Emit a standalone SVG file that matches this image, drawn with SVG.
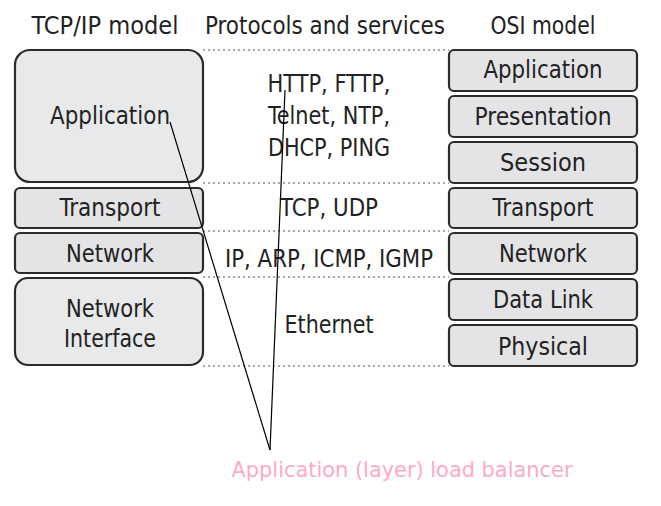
<svg xmlns="http://www.w3.org/2000/svg" width="661" height="506" viewBox="0 0 661 506">
<style>
.box{fill:#e4e4e6;stroke:#2b2b2b;stroke-width:2.2}
.big{fill:#e8e9eb}
.t{font-family:"DejaVu Sans Condensed","DejaVu Sans",sans-serif;font-size:24px;fill:#222;text-anchor:middle}
.dot{stroke:#555;stroke-width:1;stroke-dasharray:2 3;fill:none}
.ln{stroke:#000;stroke-width:1.2;fill:none}
.pink{font-family:"DejaVu Sans Condensed","DejaVu Sans",sans-serif;font-size:22px;fill:#ffaac4;text-anchor:middle}
</style>
<rect width="661" height="506" fill="#fff"/>
<g id="headers">
<text class="t" x="105" y="34" textLength="147" lengthAdjust="spacingAndGlyphs">TCP/IP model</text>
<text class="t" x="325" y="34" textLength="240" lengthAdjust="spacingAndGlyphs">Protocols and services</text>
<text class="t" x="543" y="34" textLength="105" lengthAdjust="spacingAndGlyphs">OSI model</text>
</g>
<g id="separators">
<line class="dot" x1="203" y1="50" x2="449" y2="50"/>
<line class="dot" x1="203" y1="183" x2="449" y2="183"/>
<line class="dot" x1="203" y1="231" x2="449" y2="231"/>
<line class="dot" x1="203" y1="277" x2="449" y2="277"/>
<line class="dot" x1="203" y1="366" x2="449" y2="366"/>
</g>
<g id="tcp-application"><rect class="box big" x="15" y="50" width="188" height="132" rx="15"/><text class="t" x="110" y="124" textLength="120" lengthAdjust="spacingAndGlyphs">Application</text></g>
<g id="tcp-transport"><rect class="box" x="15" y="188" width="188" height="40" rx="5"/><text class="t" x="110" y="216" textLength="101" lengthAdjust="spacingAndGlyphs">Transport</text></g>
<g id="tcp-network"><rect class="box" x="15" y="233" width="188" height="40" rx="5"/><text class="t" x="110" y="262" textLength="88" lengthAdjust="spacingAndGlyphs">Network</text></g>
<g id="tcp-netif"><rect class="box big" x="15" y="278" width="188" height="87" rx="13"/><text class="t" x="110" y="317" textLength="88" lengthAdjust="spacingAndGlyphs">Network</text><text class="t" x="110" y="347" textLength="92" lengthAdjust="spacingAndGlyphs">Interface</text></g>
<g id="proto-app"><text class="t" x="329" y="92" textLength="123" lengthAdjust="spacingAndGlyphs">HTTP, FTTP,</text><text class="t" x="329" y="124" textLength="122" lengthAdjust="spacingAndGlyphs">Telnet, NTP,</text><text class="t" x="329" y="156" textLength="122" lengthAdjust="spacingAndGlyphs">DHCP, PING</text></g>
<g id="proto-transport"><text class="t" x="329" y="216" textLength="98" lengthAdjust="spacingAndGlyphs">TCP, UDP</text></g>
<g id="proto-network"><text class="t" x="329" y="267" textLength="208" lengthAdjust="spacingAndGlyphs">IP, ARP, ICMP, IGMP</text></g>
<g id="proto-link"><text class="t" x="329" y="333" textLength="89" lengthAdjust="spacingAndGlyphs">Ethernet</text></g>
<g id="osi-application"><rect class="box" x="449" y="50" width="188" height="41" rx="5"/><text class="t" x="543" y="78" textLength="119" lengthAdjust="spacingAndGlyphs">Application</text></g>
<g id="osi-presentation"><rect class="box" x="449" y="96" width="188" height="41" rx="5"/><text class="t" x="543" y="125" textLength="137" lengthAdjust="spacingAndGlyphs">Presentation</text></g>
<g id="osi-session"><rect class="box" x="449" y="142" width="188" height="41" rx="5"/><text class="t" x="543" y="171" textLength="86" lengthAdjust="spacingAndGlyphs">Session</text></g>
<g id="osi-transport"><rect class="box" x="449" y="188" width="188" height="40" rx="5"/><text class="t" x="543" y="216" textLength="101" lengthAdjust="spacingAndGlyphs">Transport</text></g>
<g id="osi-network"><rect class="box" x="449" y="233" width="188" height="41" rx="5"/><text class="t" x="543" y="262" textLength="88" lengthAdjust="spacingAndGlyphs">Network</text></g>
<g id="osi-datalink"><rect class="box" x="449" y="279" width="188" height="41" rx="5"/><text class="t" x="543" y="308" textLength="100" lengthAdjust="spacingAndGlyphs">Data Link</text></g>
<g id="osi-physical"><rect class="box" x="449" y="325" width="188" height="41" rx="5"/><text class="t" x="543" y="355" textLength="90" lengthAdjust="spacingAndGlyphs">Physical</text></g>
<g id="connectors">
<line class="ln" x1="170" y1="122" x2="270" y2="450"/>
<line class="ln" x1="285" y1="90" x2="270" y2="450"/>
</g>
<g id="annotation"><text class="pink" x="402" y="477" textLength="341" lengthAdjust="spacingAndGlyphs">Application (layer) load balancer</text></g>
</svg>
